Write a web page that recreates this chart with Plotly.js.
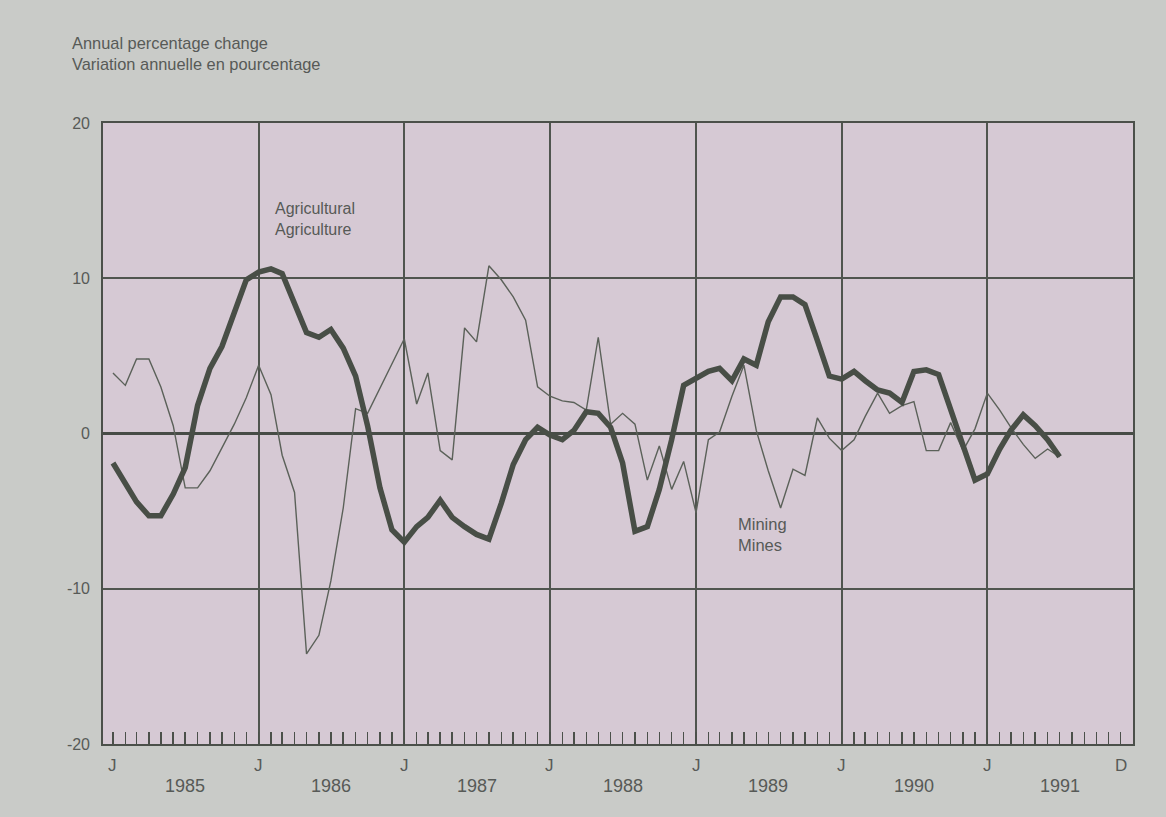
<!DOCTYPE html>
<html>
<head>
<meta charset="utf-8">
<script src="https://cdn.plot.ly/plotly-3.0.1.min.js"></script>
<style>
html,body{margin:0;padding:0;background:#c9cbc8;}
#chart{width:1166px;height:817px;}
</style>
</head>
<body>
<div id="chart"></div>
<script>
// ---- Data (monthly, January 1985 to July 1991) ----
const startYear = 1985;
const agricultural = [
  -1.9, -3.3, -4.4, -5.3, -5.3, -3.9, -2.2, 1.8, 4.2, 5.6,
  7.8, 9.9, 10.4, 10.6, 10.3, 8.3, 6.5, 6.2, 6.7, 5.5,
  3.7, 0.5, -3.5, -6.2, -7.0, -6.0, -5.4, -4.3, -5.4, -6.0,
  -6.5, -6.8, -4.5, -2.0, -0.4, 0.4, -0.1, -0.4, 0.2, 1.4,
  1.3, 0.4, -1.9, -6.3, -6.0, -3.6, -0.4, 3.1, 3.6, 4.0,
  4.2, 3.4, 4.8, 4.4, 7.2, 8.8, 8.8, 8.3, 6.0, 3.7,
  3.5, 4.0, 3.4, 2.8, 2.6, 2.0, 4.0, 4.1, 3.8, 1.5,
  -0.9, -3.0, -2.6, -1.0, 0.2, 1.2, 0.5, -0.4, -1.5
];
const mining = [
  3.9, 3.1, 4.8, 4.8, 3.0, 0.5, -3.5, -3.5, -2.4, -0.9,
  0.6, 2.3, 4.4, 2.5, -1.4, -3.8, -14.2, -13.0, -9.5, -4.8,
  1.6, 1.3, 2.9, 4.5, 6.1, 1.9, 3.9, -1.1, -1.7, 6.8,
  5.9, 10.8, 9.9, 8.8, 7.3, 3.0, 2.4, 2.1, 2.0, 1.5,
  6.2, 0.6, 1.3, 0.6, -3.0, -0.8, -3.6, -1.8, -5.1, -0.4,
  0.1, 2.4, 4.4, 0.2, -2.4, -4.8, -2.3, -2.7, 1.0, -0.3,
  -1.1, -0.4, 1.1, 2.6, 1.3, 1.8, 2.05, -1.1, -1.1, 0.7,
  -1.1, 0.3, 2.6, 1.5, 0.4, -0.7, -1.6, -1.0, -1.5
];
// month dates for each value
const months = agricultural.map((_, i) => {
  const y = startYear + Math.floor(i / 12);
  const m = (i % 12) + 1;
  return y + '-' + String(m).padStart(2, '0') + '-01';
});
// axis labels
const gridDates = ['1986-01-01','1987-01-01','1988-01-01','1989-01-01','1990-01-01','1991-01-01'];
const monthLabelDates = ['1985-01-01','1986-01-01','1987-01-01','1988-01-01','1989-01-01','1990-01-01','1991-01-01','1991-12-01'];
const monthLabelText = ['J','J','J','J','J','J','J','D'];
const yearLabelDates = ['1985-07-01','1986-07-01','1987-07-01','1988-07-01','1989-07-01','1990-07-01','1991-07-01'];
const yearLabelText = ['1985','1986','1987','1988','1989','1990','1991'];
const yTickVals = [-20, -10, 0, 10, 20];
const yTickText = ['-20', '-10', '0', '10', '20'];

// ---- Styles ----
const FONT = 'Liberation Sans, Arial, sans-serif';
const TEXT = '#575a57';
const INK = '#4b504a';
const GRID = '#50554f';
const xRange = ['1984-12-07', '1992-01-01'];

const traces = [
  {
    x: months, y: mining, type: 'scatter', mode: 'lines', name: 'Mining',
    line: {color: '#5b6159', width: 1.4}, hoverinfo: 'skip', showlegend: false
  },
  {
    x: months, y: agricultural, type: 'scatter', mode: 'lines', name: 'Agricultural',
    line: {color: '#484e46', width: 5.5}, hoverinfo: 'skip', showlegend: false
  },
  { x: [], y: [], xaxis: 'x2', type: 'scatter', showlegend: false, hoverinfo: 'skip' }
];

const annotations = [];
monthLabelDates.forEach((d, i) => annotations.push({
  x: d, xref: 'x', y: -0.034, yref: 'paper', text: monthLabelText[i], showarrow: false,
  xanchor: 'center', yanchor: 'middle', font: {family: FONT, size: 17, color: TEXT}
}));
yearLabelDates.forEach((d, i) => annotations.push({
  x: d, xref: 'x', y: -0.067, yref: 'paper', text: yearLabelText[i], showarrow: false,
  xanchor: 'center', yanchor: 'middle', font: {family: FONT, size: 18, color: TEXT}
}));
annotations.push({
  x: '1986-02-05', xref: 'x', y: 13.8, yref: 'y', text: 'Agricultural<br>Agriculture',
  showarrow: false, xanchor: 'left', yanchor: 'middle', align: 'left',
  font: {family: FONT, size: 16, color: TEXT}
});
annotations.push({
  x: '1989-04-12', xref: 'x', y: -6.5, yref: 'y', text: 'Mining<br>Mines',
  showarrow: false, xanchor: 'left', yanchor: 'middle', align: 'left',
  font: {family: FONT, size: 16.5, color: TEXT}
});

const layout = {
  width: 1166, height: 817,
  paper_bgcolor: '#c9cbc8',
  plot_bgcolor: '#d6c9d4',
  margin: {l: 103, r: 33, t: 123, b: 73},
  title: {
    text: 'Annual percentage change<br>Variation annuelle en pourcentage',
    x: 72 / 1166, xref: 'container', xanchor: 'left',
    y: 1 - 49 / 817, yref: 'container', yanchor: 'top',
    font: {family: FONT, size: 16.4, color: TEXT}
  },
  xaxis: {
    type: 'date', range: xRange, fixedrange: true,
    showgrid: false, zeroline: false,
    tickmode: 'linear', tick0: '1985-01-01', dtick: 'M1',
    ticks: 'inside', ticklen: 12, tickwidth: 1.5, tickcolor: INK,
    showticklabels: false,
    showline: true, mirror: true, linecolor: INK, linewidth: 1.8
  },
  xaxis2: {
    type: 'date', range: xRange, overlaying: 'x', fixedrange: true,
    tickmode: 'array', tickvals: gridDates,
    showgrid: true, gridcolor: GRID, gridwidth: 1.8,
    ticks: '', showticklabels: false, showline: false, zeroline: false
  },
  yaxis: {
    range: [-20, 20], fixedrange: true,
    tickmode: 'array', tickvals: yTickVals, ticktext: yTickText,
    ticks: '', ticklabelstandoff: 8,
    tickfont: {family: FONT, size: 16, color: TEXT},
    showgrid: true, gridcolor: GRID, gridwidth: 1.6,
    zeroline: true, zerolinecolor: '#474c46', zerolinewidth: 2.8,
    showline: true, mirror: true, linecolor: INK, linewidth: 1.8
  },
  annotations: annotations,
  showlegend: false
};

Plotly.newPlot('chart', traces, layout, {displayModeBar: false, staticPlot: true});
</script>
</body>
</html>
